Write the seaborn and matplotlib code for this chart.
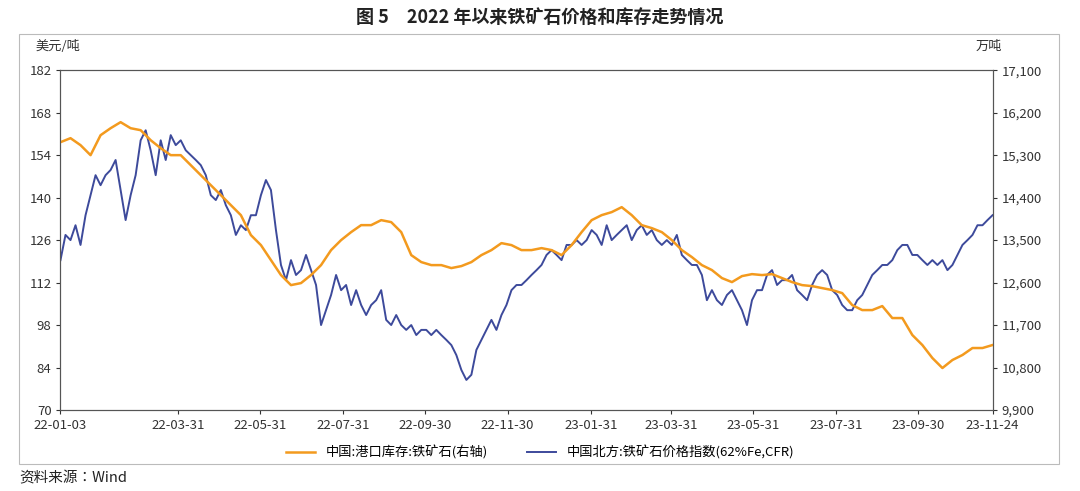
import numpy as np
import pandas as pd
import matplotlib
matplotlib.use("Agg")
import matplotlib.pyplot as plt
import matplotlib.ticker as mticker
from matplotlib import font_manager as fm
import seaborn as sns

cjk = [f.name for f in fm.fontManager.ttflist if "CJK" in f.name]
pref = [n for n in ["Noto Sans CJK SC", "Noto Sans CJK JP", "Noto Sans CJK TC", "Noto Sans CJK KR"] if n in cjk]
fam = pref[0] if pref else (cjk[0] if cjk else "DejaVu Sans")
plt.rcParams["font.family"] = "sans-serif"
plt.rcParams["font.sans-serif"] = [fam, "DejaVu Sans"]

price_vals = [119.4,127.7,126.0,130.9,124.4,134.2,140.8,147.4,144.1,147.4,149.1,152.4,142.5,132.6,140.8,147.4,158.9,162.2,155.6,147.4,
158.9,152.4,160.6,157.3,158.9,155.6,154.0,152.4,150.7,147.4,140.8,139.2,142.5,137.5,134.2,127.7,130.9,129.3,134.2,134.2,
140.8,145.8,142.5,129.3,117.8,112.8,119.4,114.5,116.1,121.1,116.1,111.2,98.0,102.9,107.9,114.5,109.5,111.2,104.6,109.5,
104.6,101.3,104.6,106.2,109.5,99.7,98.0,101.3,98.0,96.4,98.0,94.7,96.4,96.4,94.7,96.4,94.7,93.1,91.4,88.1,
83.2,79.9,81.6,89.8,93.1,96.4,99.7,96.4,101.3,104.6,109.5,111.2,111.2,112.8,114.5,116.1,117.8,121.1,122.7,121.1,
119.4,124.4,124.4,126.0,124.4,126.0,129.3,127.7,124.4,130.9,126.0,127.7,129.3,130.9,126.0,129.3,130.9,127.7,129.3,126.0,
124.4,126.0,124.4,127.7,121.1,119.4,117.8,117.8,114.5,106.2,109.5,106.2,104.6,107.9,109.5,106.2,102.9,98.0,106.2,109.5,
109.5,114.5,116.1,111.2,112.8,112.8,114.5,109.5,107.9,106.2,111.2,114.5,116.1,114.5,109.5,107.9,104.6,102.9,102.9,106.2,
107.9,111.2,114.5,116.1,117.8,117.8,119.4,122.7,124.4,124.4,121.1,121.1,119.4,117.8,119.4,117.8,119.4,116.1,117.8,121.1,
124.4,126.0,127.7,130.9,130.9,132.6,134.2]

stock_vals = [15575,15660,15512,15300,15723,15871,15999,15871,15829,15617,15448,15300,15300,15088,14876,14664,14453,14241,14029,13606,
13394,13076,12759,12546,12589,12759,12970,13288,13500,13669,13817,13817,13923,13881,13669,13182,13034,12970,12970,12907,
12949,13034,13182,13288,13436,13394,13288,13288,13330,13288,13182,13394,13669,13923,14029,14093,14198,14029,13817,13754,
13669,13500,13288,13140,12970,12865,12695,12610,12737,12779,12759,12779,12695,12610,12546,12525,12483,12441,12377,12123,
12017,12017,12102,11848,11848,11488,11276,11001,10789,10959,11065,11213,11213,11276]

start, end = "2022-01-03", "2023-11-24"
price_dates = pd.date_range(start, end, periods=len(price_vals))
stock_dates = pd.date_range(start, end, periods=len(stock_vals))

tick_labels = ["22-01-03","22-03-31","22-05-31","22-07-31","22-09-30","22-11-30",
               "23-01-31","23-03-31","23-05-31","23-07-31","23-09-30","23-11-24"]
left_ticks = list(range(70, 183, 14))
right_ticks = list(range(9900, 17101, 900))

price_name = "中国北方:铁矿石价格指数(62%Fe,CFR)"
stock_name = "中国:港口库存:铁矿石(右轴)"
blue = "#3D4A9B"
orange = "#F39A1E"

fig = plt.figure(figsize=(10.8, 4.91), dpi=100)
ax = fig.add_axes([0.056, 0.165, 0.863, 0.692])
ax2 = ax.twinx()

sns.lineplot(x=price_dates, y=price_vals, ax=ax, color=blue, linewidth=1.4, label=price_name, legend=False)
sns.lineplot(x=stock_dates, y=stock_vals, ax=ax2, color=orange, linewidth=1.8, label=stock_name, legend=False)

ax.set_xlim(pd.Timestamp(start), pd.Timestamp(end))
ax.set_ylim(70, 182)
ax2.set_ylim(9900, 17100)
ax.set_yticks(left_ticks)
ax2.set_yticks(right_ticks)
ax2.yaxis.set_major_formatter(mticker.FuncFormatter(lambda v, p: f"{int(v):,}"))
tick_dates = [pd.Timestamp("20" + t) for t in tick_labels]
ax.set_xticks(tick_dates)
ax.set_xticklabels(tick_labels)
for a in (ax, ax2):
    a.tick_params(labelsize=9.5, colors="#333333", length=3)
    a.set_xlabel(""); a.set_ylabel("")
    for s in a.spines.values():
        s.set_color("#555555")
ax.grid(False); ax2.grid(False)

fig.text(0.5, 0.965, "图 5　2022 年以来铁矿石价格和库存走势情况", ha="center", va="center",
         fontsize=13, fontweight="bold", color="#222222")
fig.text(0.033, 0.905, "美元/吨", fontsize=9.5, color="#333333", va="center")
fig.text(0.903, 0.905, "万吨", fontsize=9.5, color="#333333", va="center")
fig.text(0.018, 0.025, "资料来源：Wind", fontsize=10.5, color="#222222", va="center")

h1, l1 = ax2.get_legend_handles_labels()
h2, l2 = ax.get_legend_handles_labels()
fig.legend(h1 + h2, l1 + l2, loc="center", bbox_to_anchor=(0.5, 0.078), ncol=2,
           frameon=False, fontsize=9.5, handlelength=2.2, columnspacing=3)

rect = plt.Rectangle((0.018, 0.055), 0.963, 0.875, transform=fig.transFigure,
                     fill=False, edgecolor="#BBBBBB", linewidth=0.8)
fig.patches.append(rect)

fig.savefig("out.png", dpi=100)
